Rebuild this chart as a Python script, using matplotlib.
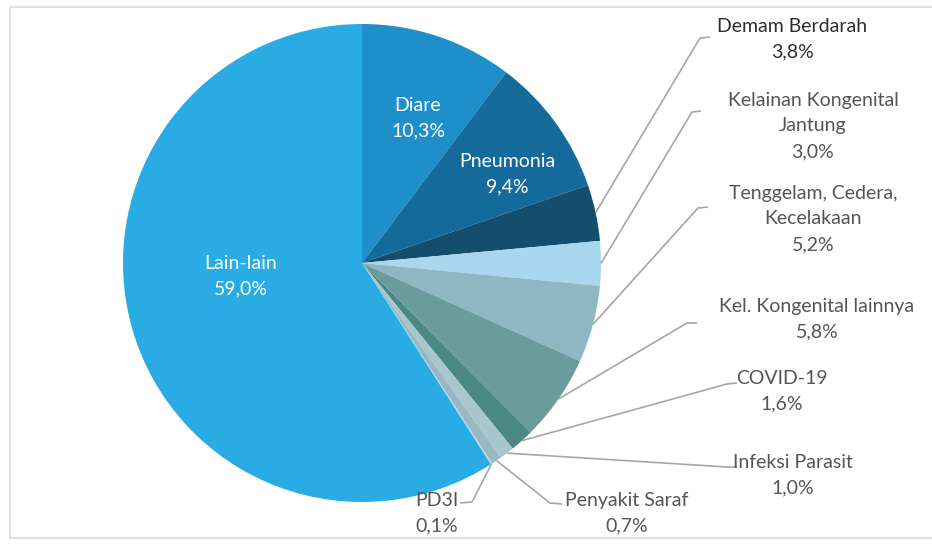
import matplotlib
matplotlib.use("Agg")
from matplotlib import pyplot as plt
from matplotlib.patches import Rectangle
import numpy as np

plt.rcParams['font.family'] = ['Lato', 'DejaVu Sans']

# data
causes = ['Diare', 'Pneumonia', 'Demam Berdarah', 'Kelainan Kongenital\nJantung',
          'Tenggelam, Cedera,\nKecelakaan', 'Kel. Kongenital lainnya', 'COVID-19',
          'Infeksi Parasit', 'Penyakit Saraf', 'PD3I', 'Lain-lain']
shares = [10.3, 9.4, 3.8, 3.0, 5.2, 5.8, 1.6, 1.0, 0.7, 0.1, 59.0]
pct_text = ['10,3%', '9,4%', '3,8%', '3,0%', '5,2%', '5,8%', '1,6%', '1,0%', '0,7%', '0,1%', '59,0%']

colors = ['#1f8fc9', '#156a9c', '#134e6f', '#a9d7ef', '#8db8c3', '#6b9c9c',
          '#4b8884', '#a8c6cd', '#9db7c2', '#a9dcf5', '#29abe3']

# layout (image pixel coords, y down)
cx, cy, R = 362, 263, 239
inside = {0: (418, 118), 1: (507, 174), 10: (241, 276)}
# label centre, leader corner, leader end
outside = {
    2: ((792, 39), (700, 38), (710, 37)),
    3: ((813, 126), (692, 112), (701, 111)),
    4: ((813, 219), (698, 208), (708, 207)),
    5: ((817, 319), (687, 323), (697, 323)),
    6: ((782, 391), (727, 384), (737, 383)),
    7: ((793, 475), (727, 467), (737, 467)),
    8: ((627, 513), (550, 503), (562, 504)),
    9: ((437, 513), (472, 502), (460, 503)),
}

fig = plt.figure(figsize=(9.32, 5.47), dpi=100, facecolor='white')
ax = fig.add_axes([0, 0, 1, 1])

wedges, _ = ax.pie(shares, colors=colors, startangle=-90, counterclock=True,
                   center=(cx, cy), radius=R, wedgeprops=dict(linewidth=0))
ax.set_xlim(0, 932)
ax.set_ylim(547, 0)
ax.set_aspect('equal')
ax.axis('off')

ax.add_patch(Rectangle((10, 7), 940, 531, fill=False, edgecolor='#e2e2e2',
                       linewidth=1.5, clip_on=False))

for i, (x, y) in inside.items():
    ax.text(x, y, causes[i] + '\n' + pct_text[i], ha='center', va='center',
            color='white', fontsize=14, linespacing=1.6)

for i, (pos, corner, end) in outside.items():
    w = wedges[i]
    th = np.deg2rad((w.theta1 + w.theta2) / 2)
    sx, sy = cx + R * np.cos(th), cy + R * np.sin(th)
    ax.plot([sx, corner[0], end[0]], [sy, corner[1], end[1]], color='#a6a6a6',
            linewidth=1.2, solid_capstyle='butt')
    col = '#2e2e2e' if i == 2 else '#555555'
    ax.text(pos[0], pos[1], causes[i] + '\n' + pct_text[i], ha='center', va='center',
            color=col, fontsize=14, linespacing=1.6)

plt.savefig('out.png', dpi=100, facecolor='white')
